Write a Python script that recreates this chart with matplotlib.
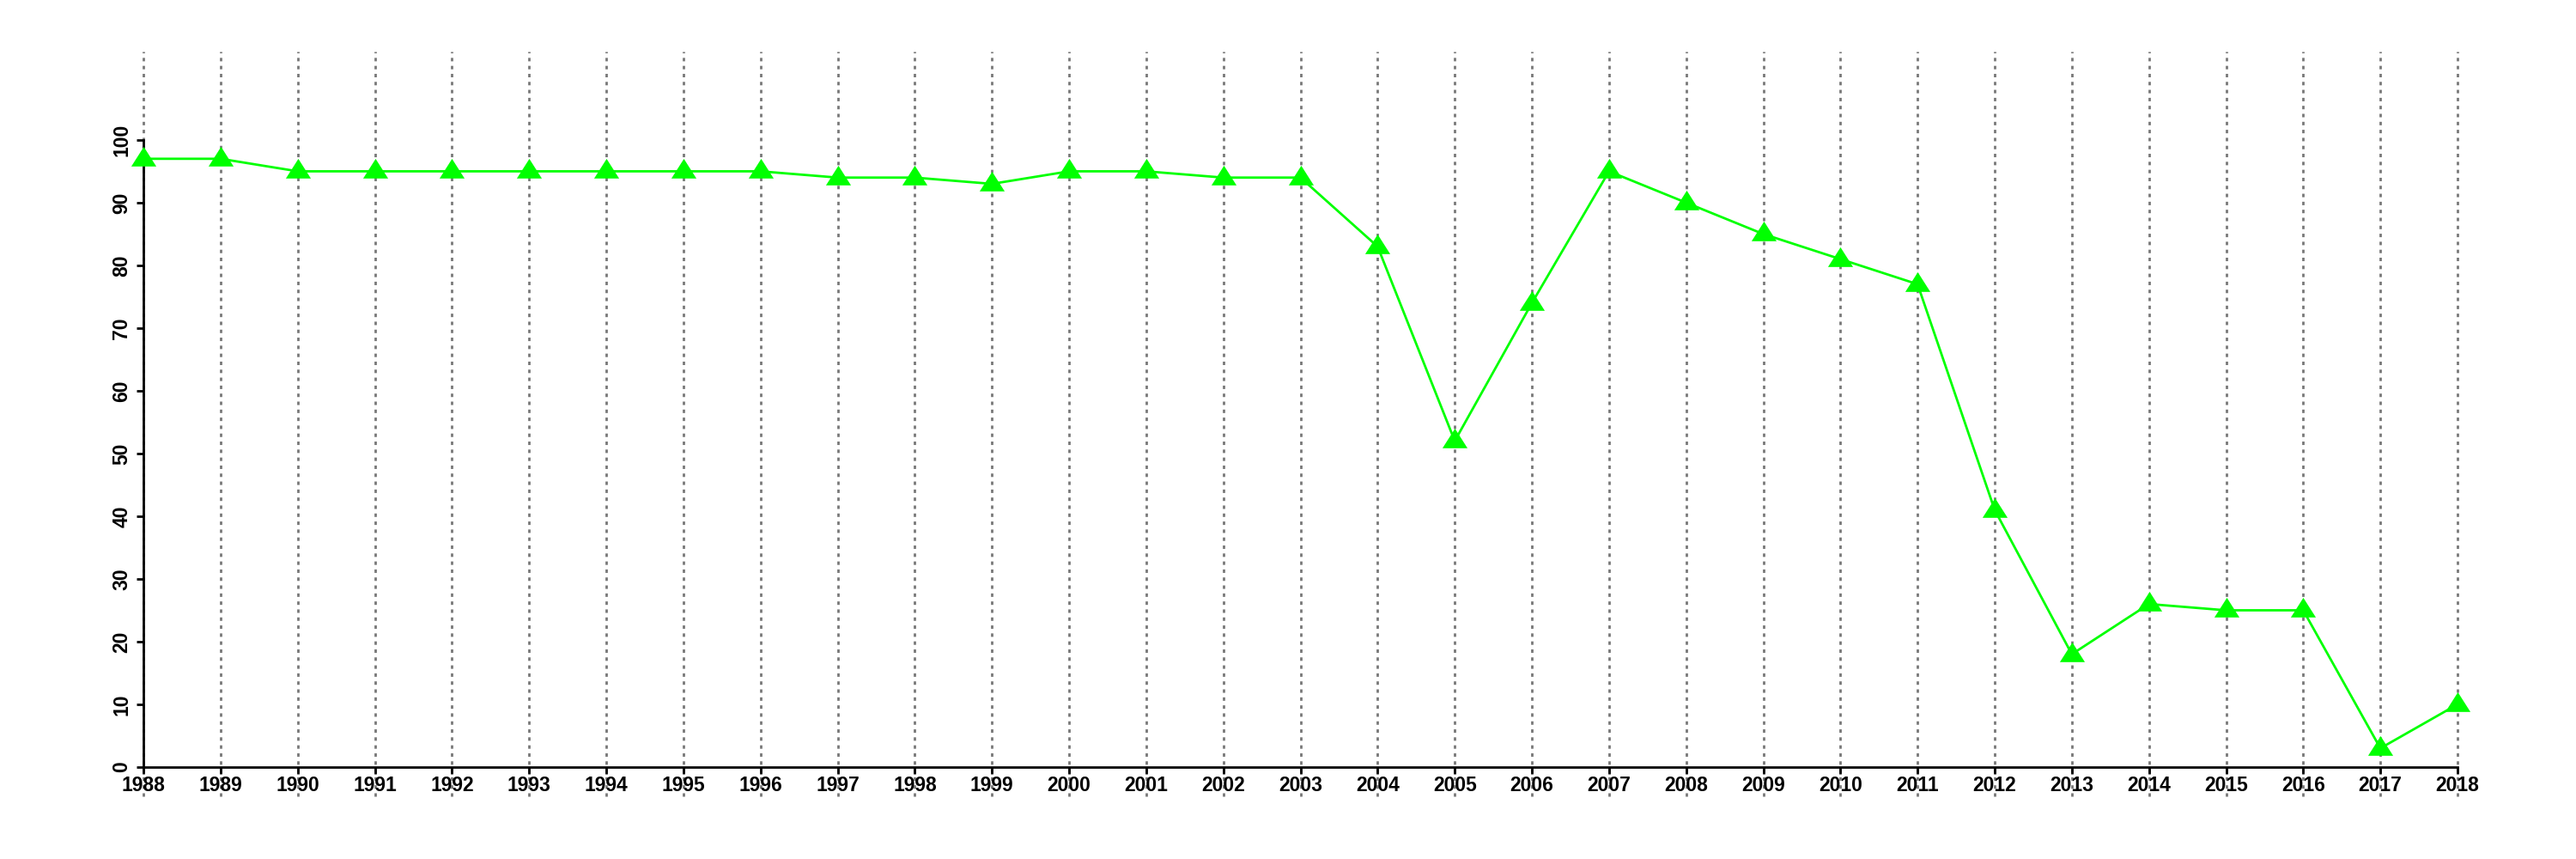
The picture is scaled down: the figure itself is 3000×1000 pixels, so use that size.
import matplotlib.pyplot as plt
from matplotlib.path import Path

# yearly values
years = list(range(1988, 2019))
values = [97, 97, 95, 95, 95, 95, 95, 95, 95, 94, 94, 93, 95, 95, 94, 94,
          83, 52, 74, 95, 90, 85, 81, 77, 41, 18, 26, 25, 25, 3, 10]
y_ticks = [0, 10, 20, 30, 40, 50, 60, 70, 80, 90, 100]

plt.rcParams['font.family'] = ['Liberation Sans', 'DejaVu Sans']
plt.rcParams['font.weight'] = 'bold'

fig = plt.figure(figsize=(30, 10), dpi=100)
ax = fig.add_axes([0.0557, 0.073, 0.8983, 0.867])

# vertical dashed lines, one per year, over the whole plot region
for yr in years:
    ax.axvline(yr, color='#787878', lw=2.0, ls=(0, (1.45, 1.9)), zorder=1,
               clip_on=False)

# R-style filled triangle (centre sits lower than matplotlib's '^')
tri = Path([(-1, -0.57), (1, -0.57), (0, 1.0), (-1, -0.57)],
           [Path.MOVETO, Path.LINETO, Path.LINETO, Path.CLOSEPOLY])

ax.plot(years, values, color='#00ff00', lw=2.0, zorder=3, clip_on=False)
ax.plot(years, values, ls='none', marker=tri, markersize=21,
        color='#00ff00', markeredgewidth=0, zorder=4, clip_on=False)

ax.set_xlim(1988, 2018)
ax.set_ylim(-4.66, 114.1)

for s in ['top', 'right']:
    ax.spines[s].set_visible(False)
ax.spines['left'].set_bounds(0, 100)
ax.spines['bottom'].set_position(('data', 0))
ax.spines['bottom'].set_bounds(1988, 2018)
ax.spines['left'].set_linewidth(2)
ax.spines['bottom'].set_linewidth(2)

ax.set_xticks(years)
ax.set_xticklabels([str(y) for y in years])
ax.set_yticks(y_ticks)
ax.set_yticklabels([str(v) for v in y_ticks], rotation=90, va='center')
ax.tick_params(axis='both', length=6, width=2, labelsize=16.5, direction='out')
ax.tick_params(axis='x', pad=1)
ax.tick_params(axis='y', pad=4)

fig.savefig('out.png', dpi=100)
